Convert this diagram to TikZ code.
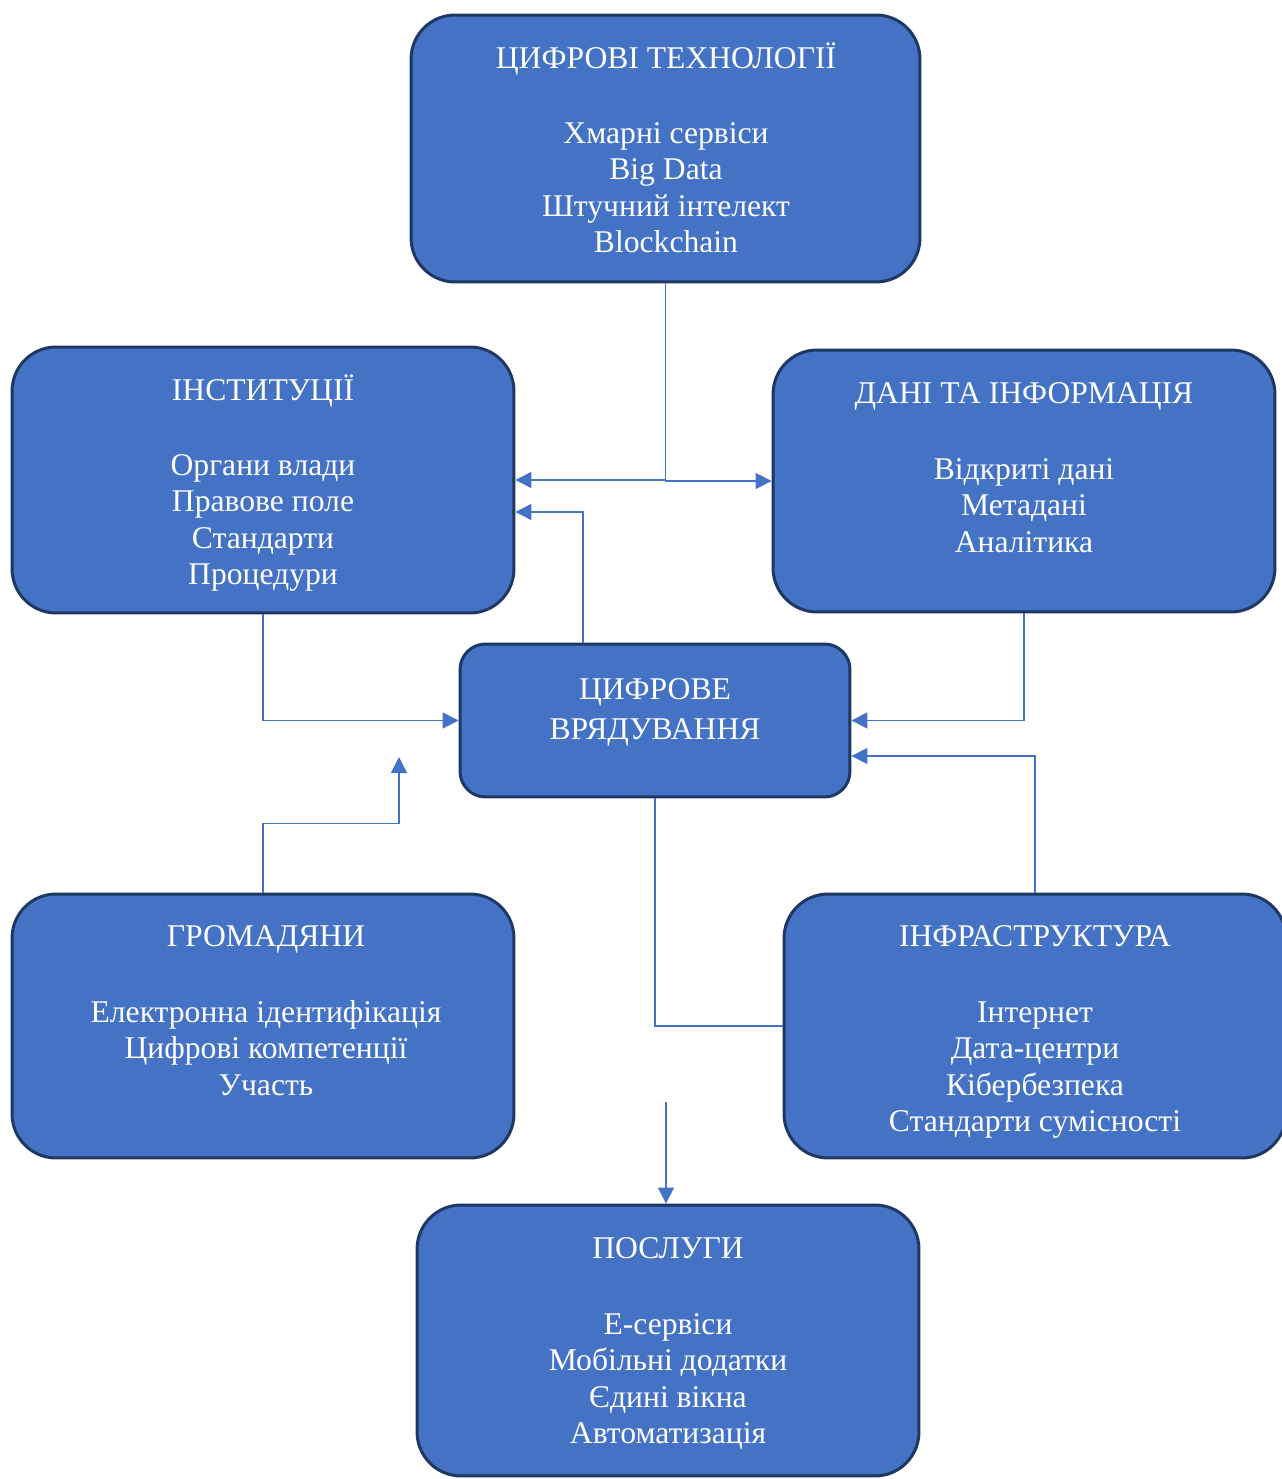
\documentclass[tikz,border=0pt]{standalone}
\usepackage{fontspec}
\setmainfont{Liberation Serif}
\usetikzlibrary{arrows.meta,positioning}
\definecolor{boxfill}{HTML}{4472C4}
\definecolor{boxline}{HTML}{1F3763}
\definecolor{linkcol}{HTML}{4472C4}
\tikzset{
  box/.style={draw=boxline, line width=1.7pt, fill=boxfill, rounded corners=0.88cm, inner sep=0pt},
  boxtext/.style={anchor=north, align=center, text=white, inner sep=0pt, font=\fontsize{18}{20.8}\selectfont},
  link/.style={draw=linkcol, line width=0.9pt},
  tip/.style={-{Triangle[length=0.32cm, width=0.32cm]}}
}
\begin{document}
\begin{tikzpicture}[x=0.02cm, y=-0.02cm]
\useasboundingbox (0,0) rectangle (1281,1479);
% boxes
\node[box, minimum width=10.18cm, minimum height=5.34cm] (tech) at (665.5,148.5) {};
\node[box, minimum width=10.04cm, minimum height=5.32cm] (inst) at (263,480) {};
\node[box, minimum width=10.04cm, minimum height=5.24cm] (data) at (1024,481) {};
\node[box, minimum width=7.8cm, minimum height=3.06cm, rounded corners=0.51cm] (gov) at (655,720.5) {};
\node[box, minimum width=10.04cm, minimum height=5.28cm] (cit) at (263,1026) {};
\node[box, minimum width=10.04cm, minimum height=5.28cm] (infra) at (1035,1026) {};
\node[box, minimum width=10.04cm, minimum height=5.42cm] (serv) at (668,1340.5) {};
% texts
\node[boxtext] (techtxt) at (666,42) {\strut ЦИФРОВІ ТЕХНОЛОГІЇ\\[22pt]Хмарні сервіси\\Big Data\\Штучний інтелект\\Blockchain};
\node[boxtext] (insttxt) at (263,374) {\strut ІНСТИТУЦІЇ\\[22pt]Органи влади\\Правове поле\\Стандарти\\Процедури};
\node[boxtext] (datatxt) at (1024,378) {\strut ДАНІ ТА ІНФОРМАЦІЯ\\[22pt]Відкриті дані\\Метадані\\Аналітика};
\node[boxtext] (govtxt) at (655,674) {\strut ЦИФРОВЕ\\[2pt]ВРЯДУВАННЯ};
\node[boxtext] (cittxt) at (266,921) {\strut ГРОМАДЯНИ\\[22pt]Електронна ідентифікація\\Цифрові компетенції\\Участь};
\node[boxtext] (infratxt) at (1035,921) {\strut ІНФРАСТРУКТУРА\\[22pt]Інтернет\\Дата-центри\\Кібербезпека\\Стандарти сумісності};
\node[boxtext] (servtxt) at (668,1233) {\strut ПОСЛУГИ\\[22pt]Е-сервіси\\Мобільні додатки\\Єдині вікна\\Автоматизація};
% connectors
\coordinate (citend) at (399,757);
\coordinate (servin) at (666,1102);
\draw[link, tip] (tech.south) |- (inst.east);
\draw[link, tip] (tech.south) |- (data.west);
\draw[link, tip] ([xshift=-1.44cm]gov.north) |- ([yshift=-0.64cm]inst.east);
\draw[link, tip] (inst.south) |- (gov.west);
\draw[link, tip] (data.south) |- (gov.east);
\draw[link, tip] (infra.north) |- ([yshift=-0.71cm]gov.east);
\draw[link, tip] (cit.north) -- ++(0,-69) -| (citend);
\draw[link] (gov.south) |- (infra.west);
\draw[link, tip] (servin) -- (servin |- serv.north);
\end{tikzpicture}
\end{document}
